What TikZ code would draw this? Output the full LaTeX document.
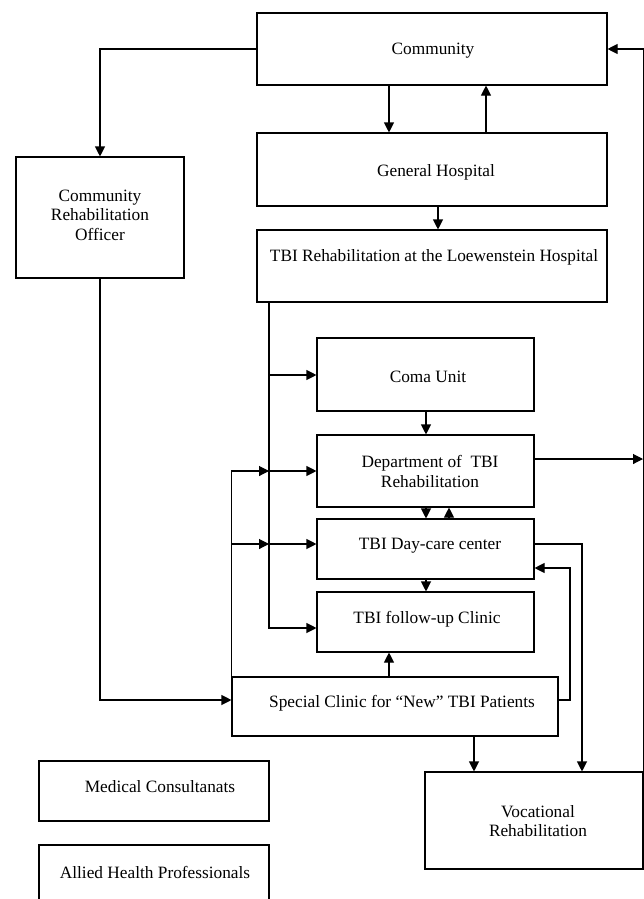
\documentclass[tikz,border=0pt]{standalone}
\usepackage{fontspec}
\setmainfont{Liberation Serif}
\usetikzlibrary{arrows.meta}
\begin{document}
\begin{tikzpicture}[x=1pt,y=-1pt,
  box/.style={draw,line width=1.1pt,inner sep=0pt,rectangle},
  txt/.style={inner sep=0pt,align=center,font=\fontsize{17.3}{19.5}\selectfont},
  arr/.style={line width=1.1pt,-{Triangle[length=10pt,width=10pt]}}]
\clip (0,0) rectangle (644,899);
% boxes
\node[box,minimum width=350,minimum height=72] (comm) at (432,49) {};
\node[box,minimum width=350,minimum height=73] (gh) at (432,169.5) {};
\node[box,minimum width=350,minimum height=72] (tbi) at (432,266) {};
\node[box,minimum width=168,minimum height=121] (cro) at (100,217.5) {};
\node[box,minimum width=217,minimum height=73] (coma) at (425.5,374.5) {};
\node[box,minimum width=217,minimum height=72] (dept) at (425.5,471) {};
\node[box,minimum width=217,minimum height=60] (day) at (425.5,549) {};
\node[box,minimum width=217,minimum height=60] (fu) at (425.5,622) {};
\node[box,minimum width=326,minimum height=59] (spec) at (395,706.5) {};
\node[box,minimum width=218,minimum height=97] (voc) at (534,820.5) {};
\node[box,minimum width=230,minimum height=60] (med) at (154,791) {};
\node[box,minimum width=230,minimum height=80] (allied) at (154,885) {};
% texts
\node[txt] (commT) at (433,51) {Community};
\node[txt] (ghT) at (436,172) {General Hospital};
\node[txt] (tbiT) at (434,257) {TBI Rehabilitation at the Loewenstein Hospital};
\node[txt] (croT) at (100,215) {Community\\Rehabilitation\\Officer};
\node[txt] (comaT) at (428,377) {Coma Unit};
\node[txt] (deptT) at (430,471.5) {Department of~ TBI\\Rehabilitation};
\node[txt] (dayT) at (430,546) {TBI Day-care center};
\node[txt] (fuT) at (427,619) {TBI follow-up Clinic};
\node[txt] (specT) at (402,703) {Special Clinic for “New” TBI Patients};
\node[txt] (vocT) at (538,821) {Vocational\\Rehabilitation};
\node[txt] (medT) at (160,787) {Medical Consultanats};
\node[txt] (alliedT) at (155,872) {Allied Health Professionals};
% connectors
\draw[arr] (comm.west) -| (cro.north);
\draw[arr] (389,0 |- comm.south) -- (389,0 |- gh.north);
\draw[arr] (486,0 |- gh.north) -- (486,0 |- comm.south);
\draw[arr] (438,0 |- gh.south) -- (438,0 |- tbi.north);
% TBI rehab distribution line
\draw[arr] (269,0 |- tbi.south) |- (fu.west |- 0,628);
\draw[arr] (269,375) -- (coma.west |- 0,375);
\draw[arr] (269,471) -- (dept.west |- 0,471);
\draw[arr] (269,544) -- (day.west |- 0,544);
% outer line from special clinic
\draw[arr] (spec.north west) |- (269,471);
\draw[arr] (232,544) -- (269,544);
% CRO to special clinic
\draw[arr] (cro.south) |- (spec.west |- 0,700);
% vertical chain
\draw[arr] (426,0 |- coma.south) -- (426,0 |- dept.north);
\draw[arr] (426,0 |- dept.south) -- (426,0 |- day.north);
\draw[arr] (449,0 |- day.north) -- (449,0 |- dept.south);
\draw[arr] (426,0 |- day.south) -- (426,0 |- fu.north);
\draw[arr] (389,0 |- spec.north) -- (389,0 |- fu.south);
% right side
\draw[arr] (dept.east |- 0,459) -- (643,459);
\draw[arr] (day.east |- 0,544) -| (582,0 |- voc.north);
\draw[arr] (spec.east |- 0,700) -- (570,700) |- (day.east |- 0,568);
\draw[arr] (474,0 |- spec.south) -- (474,0 |- voc.north);
\draw[arr] (voc.north east) |- (comm.east);
\end{tikzpicture}
\end{document}
